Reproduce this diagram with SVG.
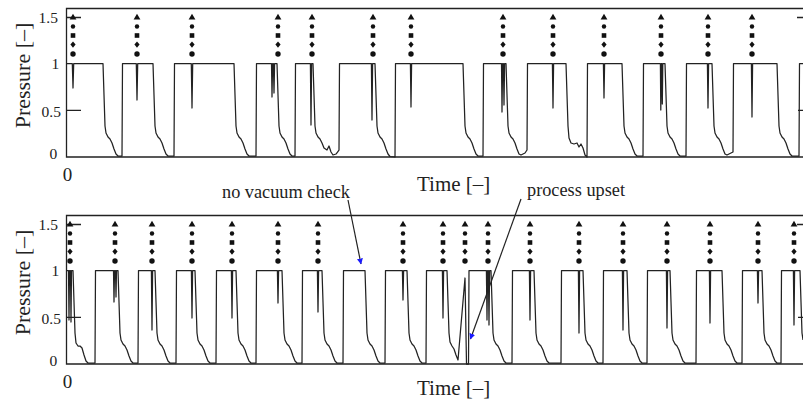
<svg xmlns="http://www.w3.org/2000/svg" xmlns:xlink="http://www.w3.org/1999/xlink" width="803" height="403" viewBox="0 0 803 403">
<style>
.ax{fill:none;stroke:#222;stroke-width:1.3}
.tr{fill:none;stroke:#222;stroke-width:1.25;stroke-linejoin:round}
.tk{font-family:"Liberation Serif","Times New Roman",serif;font-size:15.5px;fill:#222}
.lb{font-family:"Liberation Serif","Times New Roman",serif;font-size:21px;fill:#222}
.an{font-family:"Liberation Serif","Times New Roman",serif;font-size:18.3px;fill:#222}
.ar{fill:none;stroke:#222;stroke-width:1.2}
</style>
<defs>
<marker id="bh" viewBox="0 0 10 10" refX="9" refY="5" markerWidth="6" markerHeight="6" markerUnits="userSpaceOnUse" orient="auto">
<path d="M0,0 L10,5 L0,10 Z" fill="#1a1aff"/>
</marker>
<g id="stk" fill="#111">
<path d="M0,-3.3 L3.4,2.4 L-3.4,2.4 Z"/>
<circle cy="9.5" r="2.2"/>
<rect x="-2.3" y="16.2" width="4.6" height="4.6"/>
<path d="M0,24.4 L2.6,27.6 L0,30.8 L-2.6,27.6 Z"/>
<circle cy="37" r="2.7"/>
</g>
<g id="axes">
<path class="ax" d="M803,8.5 L66.5,8.5 L66.5,157 L803,157"/>
<path class="ax" d="M66.5,17.5 H81 M66.5,110.3 H81 M797,17.5 H803 M798,110.3 H803"/>
<text class="tk" x="38.5" y="22.8">1.5</text>
<text class="tk" x="51.5" y="68.5">1</text>
<text class="tk" x="41.5" y="116.8">0.5</text>
<text class="tk" x="49.5" y="159">0</text>
<text class="lb" x="67.5" y="181" text-anchor="middle" style="font-size:19px">0</text>
<text class="lb" transform="translate(30,75.5) rotate(-90)" text-anchor="middle" style="font-size:22px">Pressure [–]</text>
</g>
</defs>

<g id="top-plot">
<use xlink:href="#axes"/>
<g id="top-markers">
<use xlink:href="#stk" x="73" y="17"/>
<use xlink:href="#stk" x="137" y="17"/>
<use xlink:href="#stk" x="192" y="17"/>
<use xlink:href="#stk" x="278" y="17"/>
<use xlink:href="#stk" x="312" y="17"/>
<use xlink:href="#stk" x="373" y="17"/>
<use xlink:href="#stk" x="411" y="17"/>
<use xlink:href="#stk" x="503" y="17"/>
<use xlink:href="#stk" x="553" y="17"/>
<use xlink:href="#stk" x="604" y="17"/>
<use xlink:href="#stk" x="661" y="17"/>
<use xlink:href="#stk" x="708" y="17"/>
<use xlink:href="#stk" x="752" y="17"/>
</g>
<path id="top-trace" class="tr" d="M66.5,63.5 L72.3,63.5 L73,88 L73.7,63.5
L103,63.5 L104,95 L105,126 L106,133 L108,137 L110,139 L112,143 L114,149 L116,154 L118,156 L122,156 L122.5,63.5
L136.3,63.5 L137,100 L137.7,63.5
L153,63.5 L154,95 L155,126 L156,133 L158,137 L160,139 L162,143 L164,149 L166,154 L168,156 L174,156 L174.5,63.5
L191.3,63.5 L192,108 L192.7,63.5
L234,63.5 L235,95 L236,126 L237,133 L239,137 L241,139 L243,143 L245,149 L247,154 L249,156 L256,156 L256.5,63.5
L271.5,63.5 L272,97 L272.6,63.5 L273.4,63.5 L274,93 L274.6,63.5
L277,63.5 L278,95 L279,126 L280,133 L282,137 L284,139 L286,143 L288,149 L290,154 L292,156 L295,156 L295.5,63.5
L310.4,63.5 L311,125 L311.6,63.5
L313,63.5 L314,95 L315,126 L316,133 L318,137 L320,139 L322,143 L324,148 L327,150 L329,146 L331,152 L333,155 L336,154 L339,150 L339.5,63.5
L371.4,63.5 L372,120 L372.6,63.5
L375,63.5 L376,95 L377,126 L378,133 L380,137 L382,139 L384,143 L386,149 L388,154 L390,156.5 L395,157 L395.5,63.5
L410.4,63.5 L411,107 L411.6,63.5
L463,63.5 L464,95 L465,126 L466,133 L468,137 L470,139 L472,143 L474,149 L476,154 L478,156 L483,156 L483.5,63.5
L501.5,63.5 L502,112 L502.6,63.5 L503.4,63.5 L504,105 L504.6,63.5
L506,63.5 L507,95 L508,126 L509,133 L511,137 L513,139 L515,143 L517,149 L519,154 L521,155 L525,153 L527,150 L527.5,63.5
L552.4,63.5 L553,108 L553.6,63.5
L566,63.5 L567,95 L568,126 L569,138 L571,143 L574,144 L577,143 L579,147 L581,144 L583,148 L585,155 L587,157 L587.5,63.5
L603.4,63.5 L604,98 L604.6,63.5
L622,63.5 L623,95 L624,126 L625,133 L627,137 L629,139 L631,143 L633,149 L635,154 L637,156 L643,156 L643.5,63.5
L660.4,63.5 L660.8,110 L661.3,63.5 L661.8,63.5 L662.3,104 L662.8,63.5
L665,63.5 L666,95 L667,126 L668,133 L670,137 L672,139 L674,143 L676,149 L678,154 L680,156 L686,156 L686.5,63.5
L707.4,63.5 L708,108 L708.6,63.5
L712,63.5 L713,95 L714,126 L715,133 L717,137 L719,139 L721,143 L723,149 L725,154 L727,155 L731,153 L733,152 L733.5,63.5
L751.4,63.5 L752,117 L752.6,63.5
L777,63.5 L778,95 L779,126 L780,133 L782,137 L784,139 L786,143 L788,149 L790,154 L792,156 L799,156 L799.5,63.5 L803,63.5"/>
<text class="lb" x="417" y="190.5">Time [–]</text>
</g>

<g id="bottom-plot">
<use xlink:href="#axes" y="207"/>
<g id="bottom-markers">
<use xlink:href="#stk" x="70" y="224"/>
<use xlink:href="#stk" x="115" y="224"/>
<use xlink:href="#stk" x="152" y="224"/>
<use xlink:href="#stk" x="192" y="224"/>
<use xlink:href="#stk" x="232" y="224"/>
<use xlink:href="#stk" x="278" y="224"/>
<use xlink:href="#stk" x="318" y="224"/>
<use xlink:href="#stk" x="403" y="224"/>
<use xlink:href="#stk" x="443" y="224"/>
<use xlink:href="#stk" x="465" y="224"/>
<use xlink:href="#stk" x="488" y="224"/>
<use xlink:href="#stk" x="530" y="224"/>
<use xlink:href="#stk" x="579" y="224"/>
<use xlink:href="#stk" x="623" y="224"/>
<use xlink:href="#stk" x="667" y="224"/>
<use xlink:href="#stk" x="710" y="224"/>
<use xlink:href="#stk" x="758" y="224"/>
<use xlink:href="#stk" x="794" y="224"/>
</g>
<path id="bottom-trace" class="tr" transform="translate(0,207)" d="M66.5,63.5 L68.5,63.5 L69,113 L69.5,63.5 L70.5,63.5 L71,115 L71.5,63.5
L73,63.5 L74,95 L75,126 L76,136 L78,139 L80,139 L82,141 L84,148 L86,154 L88,156 L95,156 L95.5,63.5
L113.5,63.5 L114,95 L114.5,63.5 L115.5,63.5 L116,90 L116.5,63.5
L118,63.5 L119,95 L120,126 L121,133 L123,137 L125,139 L127,143 L129,149 L131,154 L133,156 L138,156 L138.5,63.5
L151.4,63.5 L152,123 L152.6,63.5
L155,63.5 L156,95 L157,126 L158,133 L160,137 L162,139 L164,143 L166,149 L168,154 L170,156 L176,156 L176.5,63.5
L191.4,63.5 L192,111 L192.6,63.5
L195,63.5 L196,95 L197,126 L198,133 L200,137 L202,139 L204,143 L206,149 L208,154 L210,156 L216,156 L216.5,63.5
L231.4,63.5 L232,111 L232.6,63.5
L236,63.5 L237,95 L238,126 L239,133 L241,137 L243,139 L245,143 L247,149 L249,154 L251,156 L256,156 L256.5,63.5
L277.4,63.5 L278,96 L278.6,63.5
L282,63.5 L283,95 L284,126 L285,133 L287,137 L289,139 L291,143 L293,149 L295,154 L297,156 L302,156 L302.5,63.5
L317.4,63.5 L318,105 L318.6,63.5
L322,63.5 L323,95 L324,126 L325,133 L327,137 L329,139 L331,143 L333,149 L335,154 L337,156 L343,156 L343.5,63.5
L365,63.5 L366,95 L367,126 L368,133 L370,137 L372,139 L374,143 L376,149 L378,154 L380,156 L385,156 L385.5,63.5
L402.4,63.5 L403,93 L403.6,63.5
L407,63.5 L408,95 L409,126 L410,133 L412,137 L414,139 L416,143 L418,149 L420,154 L422,156 L426,156 L426.5,63.5
L442.4,63.5 L443,111 L443.6,63.5
L447,63.5 L448,95 L449,126 L450,135 L452,139 L454,142 L456,148 L458,153 L465,71 L466.5,157 L468.5,157 L469,63.5
L486.4,63.5 L487,113 L487.6,63.5 L488.4,63.5 L489,118 L489.6,63.5
L491,63.5 L492,95 L493,126 L494,133 L496,137 L498,139 L500,143 L502,149 L504,154 L506,156 L512,156 L512.5,63.5
L529.4,63.5 L530,113 L530.6,63.5
L534,63.5 L535,95 L536,126 L537,133 L539,137 L541,139 L543,143 L545,149 L547,154 L549,156 L561,156 L561.5,63.5
L578.4,63.5 L579,126 L579.6,63.5
L583,63.5 L584,95 L585,126 L586,133 L588,137 L590,139 L592,143 L594,149 L596,154 L598,156 L603,156 L603.5,63.5
L622.4,63.5 L623,123 L623.6,63.5
L627,63.5 L628,95 L629,126 L630,133 L632,137 L634,139 L636,143 L638,149 L640,154 L642,156 L647,156 L647.5,63.5
L666.4,63.5 L667,121 L667.6,63.5
L670,63.5 L671,95 L672,126 L673,133 L675,137 L677,139 L679,143 L681,149 L683,154 L685,156 L696,156 L696.5,63.5
L709.4,63.5 L710,116 L710.6,63.5
L722,63.5 L723,95 L724,126 L725,133 L727,137 L729,139 L731,143 L733,149 L735,154 L737,156 L742,156 L742.5,63.5
L757.4,63.5 L758,96 L758.6,63.5
L762,63.5 L763,95 L764,126 L765,133 L767,137 L769,139 L771,143 L773,149 L775,154 L777,156 L781,156 L781.5,63.5
L793.4,63.5 L794,118 L794.6,63.5
L800,63.5 L801,95 L802,126 L803,133"/>
<text class="lb" x="417" y="395">Time [–]</text>
</g>

<g id="annotations">
<g id="note-no-vacuum">
<text class="an" x="222" y="197.5">no vacuum check</text>
</g>
<g id="note-upset">
<text class="an" x="527" y="196">process upset</text>
</g>
</g>
<g id="connectors">
<path class="ar" d="M348,200 L361,264" marker-end="url(#bh)"/>
<path class="ar" d="M521,199 L470.5,339" marker-end="url(#bh)"/>
</g>
</svg>
